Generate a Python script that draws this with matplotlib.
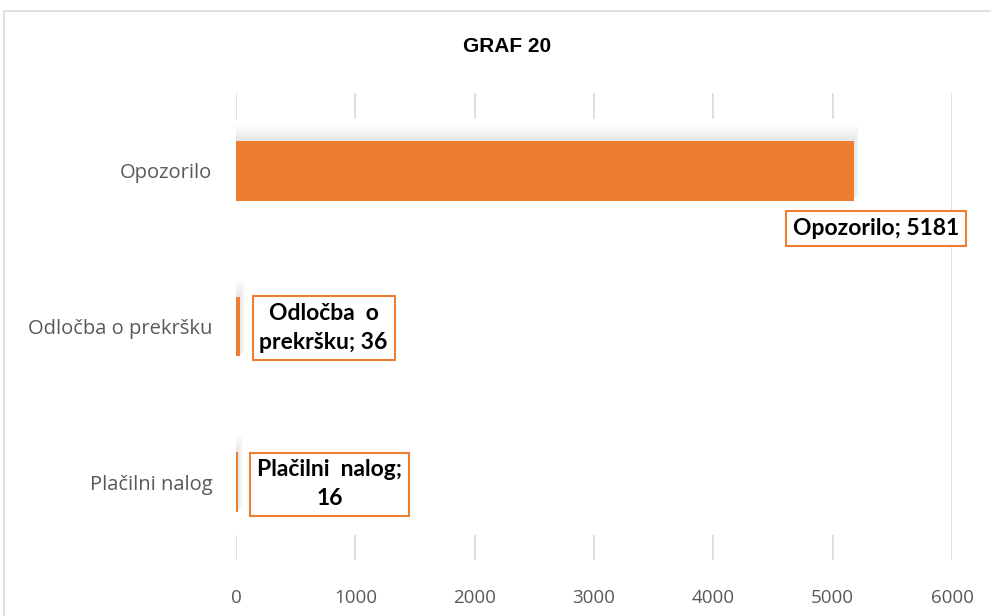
import matplotlib
matplotlib.use("Agg")
import matplotlib.pyplot as plt
from matplotlib.patches import Rectangle

categories = ["Opozorilo", "Odločba o prekršku", "Plačilni nalog"]
values = [5181, 36, 16]
label_texts = ["Opozorilo; 5181", "Odločba  o\nprekršku; 36", "Plačilni  nalog;\n16"]
xticks = [0, 1000, 2000, 3000, 4000, 5000, 6000]
title = "GRAF 20"

ORANGE = "#ED7D31"
GRAY = "#595959"
W, H = 991, 616

fig = plt.figure(figsize=(W / 100, H / 100), dpi=100)
fig.patch.set_facecolor("white")
# outer chart border
fig.add_artist(Rectangle((4 / W, -0.1), 1.2, (H - 11) / H + 0.1, transform=fig.transFigure,
                         fill=False, edgecolor="#D9D9D9", linewidth=1.2))

top_px, bot_px = 93, 560
ax = fig.add_axes([236 / W, (H - bot_px) / H, (952 - 236) / W, (bot_px - top_px) / H])
ypos = list(range(len(categories)))

ax.set_xlim(0, 6000)
ax.set_ylim(len(categories) - 0.5, -0.5)
ax.set_xticks(xticks)
ax.set_xticklabels([str(t) for t in xticks])
ax.set_yticks(ypos)
ax.set_yticklabels(categories)
for s in ax.spines.values():
    s.set_visible(False)
ax.tick_params(axis="both", length=0, colors=GRAY)
ax.tick_params(axis="y", pad=17, labelsize=14.5)
ax.tick_params(axis="x", pad=21, labelsize=13.5)
for lab in ax.get_xticklabels() + ax.get_yticklabels():
    lab.set_fontfamily("Open Sans")
    lab.set_color(GRAY)

ax.set_axisbelow(True)
ax.grid(axis="x", color="#D9D9D9", linewidth=1.2, zorder=0)
ax.grid(axis="y", visible=False)

# pixel -> data helpers (for styling only)
pxx = 6000 / (952 - 236)
pxy = 3.0 / (bot_px - top_px)

# white backdrop hiding the middle of gridlines (as in reference)
ax.add_patch(Rectangle((-6 * pxx, -0.5 + (119 - top_px) * pxy), 5260,
                       (535 - 119) * pxy, facecolor="white", edgecolor="none", zorder=1))

bar_h = 0.385
# soft shadow behind bars (upward)
for i, v in enumerate(values):
    for k in range(1, 9):
        ax.add_patch(Rectangle((-k * 0.3 * pxx, i - bar_h / 2 - k * 2.0 * pxy),
                               v + k * 0.9 * pxx, bar_h + k * 1.5 * pxy,
                               facecolor="black", alpha=0.010, edgecolor="none", zorder=2))

bars = ax.barh(ypos, values, height=bar_h, color=ORANGE, zorder=3)

box = dict(boxstyle="square,pad=0.3", facecolor="white", edgecolor=ORANGE, linewidth=1.5)
offsets = [(15.6, -41.5), (60, -1), (66, -1.5)]
for i, (v, t) in enumerate(zip(values, label_texts)):
    ax.annotate(t, xy=(v, i), xytext=offsets[i], textcoords="offset points",
                ha="center", va="center", multialignment="center",
                fontsize=16.5, fontweight="bold", fontfamily="Lato", color="black",
                bbox=box, zorder=5, linespacing=1.45)

fig.text(507 / W, 1 - 46 / H, title, ha="center", va="center", fontsize=15,
         fontweight="bold", fontfamily="Liberation Sans", color="black")

fig.savefig("out.png", dpi=100)
